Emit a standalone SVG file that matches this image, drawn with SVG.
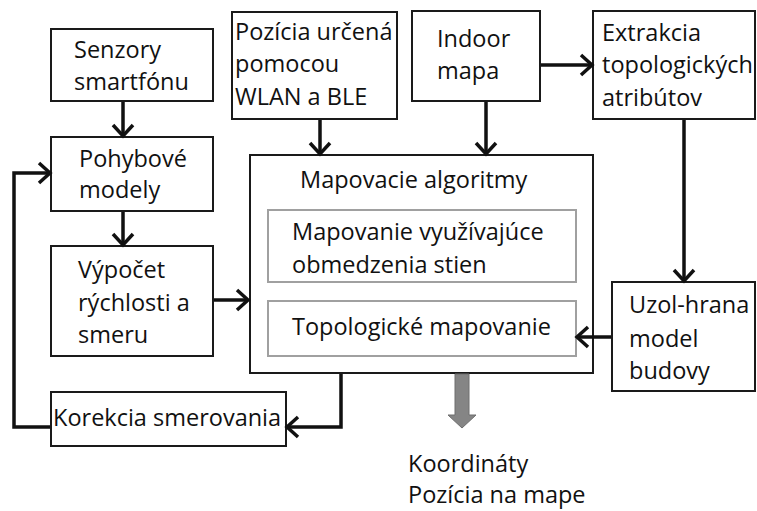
<svg xmlns="http://www.w3.org/2000/svg" width="757" height="511" viewBox="0 0 757 511">
<style>
.box{fill:#fff;stroke:#1a1a1a;stroke-width:2}
.inner{fill:#fff;stroke:#a0a0a0;stroke-width:2}
.t{font-family:"Open Sans","Noto Sans",sans-serif;font-size:23.5px;fill:#111}
.c{fill:none;stroke:#111;stroke-width:3.5}
</style>
<defs>
<marker id="ah" markerUnits="userSpaceOnUse" markerWidth="16" markerHeight="24" viewBox="0 0 16 24" refX="13" refY="12" orient="auto">
<path d="M2,2 L13,12 L2,22" fill="none" stroke="#111" stroke-width="3.5"/>
</marker>
</defs>
<rect width="757" height="511" fill="#fff"/>
<g id="senzory">
<rect class="box" x="51" y="29" width="162" height="72"/>
<text class="t" x="74" y="58">Senzory</text>
<text class="t" x="74" y="90">smartfónu</text>
</g>
<g id="pozicia">
<rect class="box" x="232" y="12" width="165" height="107"/>
<text class="t" x="235" y="40">Pozícia určená</text>
<text class="t" x="235" y="72">pomocou</text>
<text class="t" x="235" y="105">WLAN a BLE</text>
</g>
<g id="indoor">
<rect class="box" x="412" y="11" width="128" height="90"/>
<text class="t" x="437" y="47">Indoor</text>
<text class="t" x="437" y="79">mapa</text>
</g>
<g id="extrakcia">
<rect class="box" x="593" y="11" width="162" height="108"/>
<text class="t" x="602" y="41">Extrakcia</text>
<text class="t" x="602" y="73">topologických</text>
<text class="t" x="602" y="106">atribútov</text>
</g>
<g id="pohybove">
<rect class="box" x="51" y="137" width="162" height="74"/>
<text class="t" x="79" y="167">Pohybové</text>
<text class="t" x="79" y="198">modely</text>
</g>
<g id="vypocet">
<rect class="box" x="51" y="246" width="162" height="110"/>
<text class="t" x="78" y="278">Výpočet</text>
<text class="t" x="78" y="311">rýchlosti a</text>
<text class="t" x="78" y="343">smeru</text>
</g>
<g id="mapovacie">
<rect class="box" x="250" y="155" width="343" height="218"/>
<text class="t" x="300" y="188">Mapovacie algoritmy</text>
</g>
<g id="steny">
<rect class="inner" x="268" y="210" width="308" height="72"/>
<text class="t" x="292" y="240">Mapovanie využívajúce</text>
<text class="t" x="292" y="273">obmedzenia stien</text>
</g>
<g id="topologicke">
<rect class="inner" x="268" y="301" width="308" height="55"/>
<text class="t" x="292" y="335">Topologické mapovanie</text>
</g>
<g id="uzol">
<rect class="box" x="612" y="282" width="143" height="109"/>
<text class="t" x="629" y="313">Uzol-hrana</text>
<text class="t" x="629" y="347">model</text>
<text class="t" x="629" y="379">budovy</text>
</g>
<g id="korekcia">
<rect class="box" x="51" y="392" width="235" height="54"/>
<text class="t" x="53" y="426">Korekcia smerovania</text>
</g>
<g id="vystup">
<text class="t" x="408" y="472">Koordináty</text>
<text class="t" x="408" y="503">Pozícia na mape</text>
</g>
<g id="connectors">
<line class="c" x1="123" y1="102" x2="123" y2="136" marker-end="url(#ah)"/>
<line class="c" x1="123" y1="212" x2="123" y2="245" marker-end="url(#ah)"/>
<line class="c" x1="214" y1="300" x2="248" y2="300" marker-end="url(#ah)"/>
<line class="c" x1="320" y1="120" x2="320" y2="154" marker-end="url(#ah)"/>
<line class="c" x1="486" y1="102" x2="486" y2="154" marker-end="url(#ah)"/>
<line class="c" x1="541" y1="65" x2="592" y2="65" marker-end="url(#ah)"/>
<line class="c" x1="684" y1="120" x2="684" y2="281" marker-end="url(#ah)"/>
<line class="c" x1="611" y1="337" x2="577" y2="337" marker-end="url(#ah)"/>
<polyline class="c" points="341,374 341,427 287,427" marker-end="url(#ah)"/>
<polyline class="c" points="50,427 14,427 14,173 50,173" marker-end="url(#ah)"/>
<path d="M455,374 L469,374 L469,415 L476,415 L462,428 L448,415 L455,415 Z" fill="#858585" stroke="#6e6e6e" stroke-width="1"/>
</g>
</svg>
